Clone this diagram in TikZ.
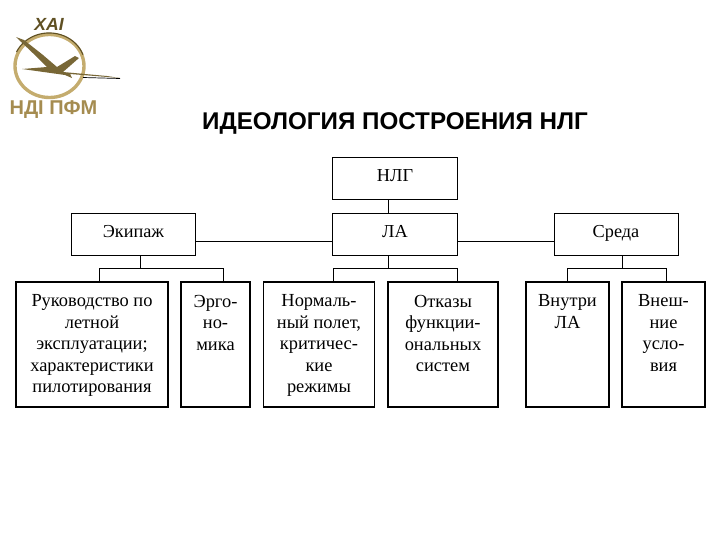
\documentclass[tikz,border=0pt]{standalone}
\usepackage{fontspec}
\setmainfont{Liberation Serif}
\newfontfamily\headfont{Liberation Sans}
\usepackage{xcolor}
\usepackage{tikz}
\usetikzlibrary{positioning}
\definecolor{mygold}{RGB}{196,172,110}
\definecolor{myolive}{RGB}{95,80,35}
\definecolor{mytan}{RGB}{165,140,80}
\tikzset{
  topbox/.style={rectangle, draw=black, fill=white, minimum height=1.05cm,
    minimum width=3.1cm, font=\fontsize{13}{15}\selectfont, line width=0.7pt},
  lowbox/.style={rectangle, draw=black, fill=white, minimum height=3.125cm, line width=0.8pt},
  lowtext/.style={anchor=north, align=center, yshift=-6pt,
    font=\fontsize{13.1}{15.3}\selectfont},
  link/.style={line width=0.7pt, color=black},
  logotext/.style={font=\headfont\bfseries\fontsize{14.2}{15}\selectfont, color=mytan}
}
\begin{document}
\begin{tikzpicture}[x=0.025cm, y=-0.025cm]
  \useasboundingbox (0,0) rectangle (720,540);

  % Logo
  \draw[mygold, line width=2.4pt] (49.5,66) ellipse (34.5 and 31.5);
  \draw[myolive, line width=0.8pt] (16.5,52) arc[start angle=205, end angle=340, x radius=36, y radius=33];
  \fill[myolive!75!mygold] (16,37) -- (24,40) -- (43,55) -- (57,67) -- (75,56) -- (79,58)
    -- (63,72) -- (107,76) -- (120,78) -- (70,74) -- (72,78) -- (65,75) -- (22,69) -- (47,67)
    -- (38,58) -- cycle;
  \draw[black, line width=0.5pt] (83,77.5) -- (120,78.5);
  \node[logotext, color=myolive, font=\headfont\bfseries\itshape\fontsize{12.5}{14}\selectfont] (logotop) at (49,24) {ХАІ};
  \node[logotext] (logoname) at (53.5,110) {НДІ ПФМ};

  % Title
  \node[font=\headfont\bfseries\fontsize{17.2}{20}\selectfont] (title) at (395,123) {ИДЕОЛОГИЯ ПОСТРОЕНИЯ НЛГ};

  % Upper boxes
  \node[topbox] (nlg) at (395,178.5) {\raisebox{4pt}{НЛГ}};
  \node[topbox] (la) at (395,234) {\raisebox{3pt}{ЛА}};
  \node[topbox] (crew) at (133.5,234) {\raisebox{3pt}{Экипаж}};
  \node[topbox] (env) at (616,234) {\raisebox{3pt}{Среда}};

  % Lower boxes
  \node[lowbox, minimum width=3.8cm, label={[lowtext]north:{Руководство по\\летной\\эксплуатации;\\характеристики\\пилотирования}}] (manual) at (92,344.5) {};
  \node[lowbox, minimum width=1.725cm, label={[lowtext]north:{Эрго-\\но-\\мика}}] (ergo) at (215.5,344.5) {};
  \node[lowbox, minimum width=2.76cm, label={[lowtext]north:{Нормаль-\\ный полет,\\критичес-\\кие\\режимы}}] (normal) at (319,344.5) {};
  \node[lowbox, minimum width=2.75cm, label={[lowtext]north:{Отказы\\функции-\\ональных\\систем}}] (fail) at (443,344.5) {};
  \node[lowbox, minimum width=2.075cm, label={[lowtext]north:{Внутри\\ЛА}}] (inside) at (567.5,344.5) {};
  \node[lowbox, minimum width=2.075cm, label={[lowtext]north:{Внеш-\\ние\\усло-\\вия}}] (outside) at (663.5,344.5) {};

  % Bus corners
  \coordinate (busa) at (140,268);
  \coordinate (busal) at (99,268);
  \coordinate (busar) at (223,268);
  \coordinate (busb) at (388,268);
  \coordinate (busbl) at (333,268);
  \coordinate (busbr) at (457,268);
  \coordinate (busc) at (622,268);
  \coordinate (buscl) at (567,268);
  \coordinate (buscr) at (666,268);

  % Links
  \draw[link] (nlg.south -| busb) -- (la.north -| busb);
  \draw[link] (crew.east |- 0,241) -- (la.west |- 0,241);
  \draw[link] (la.east |- 0,241) -- (env.west |- 0,241);
  \draw[link] (crew.south -| busa) -- (busa);
  \draw[link] (manual.north -| busal) -- (busal) -- (busar) -- (ergo.north -| busar);
  \draw[link] (la.south -| busb) -- (busb);
  \draw[link] (normal.north -| busbl) -- (busbl) -- (busbr) -- (fail.north -| busbr);
  \draw[link] (env.south -| busc) -- (busc);
  \draw[link] (inside.north -| buscl) -- (buscl) -- (buscr) -- (outside.north -| buscr);
\end{tikzpicture}
\end{document}
